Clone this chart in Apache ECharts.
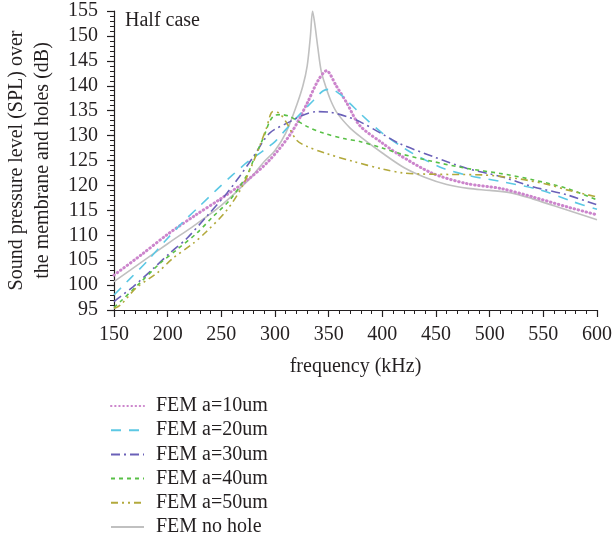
<!DOCTYPE html>
<html><head><meta charset="utf-8">
<script src="https://cdn.jsdelivr.net/npm/echarts@6/dist/echarts.min.js"></script>
<style>html,body{margin:0;padding:0;background:#fff}#c{width:612px;height:540px}</style>
</head><body><div id="c"></div>
<script>
const seriesNames = ['FEM a=10um','FEM a=20um','FEM a=30um','FEM a=40um','FEM a=50um','FEM no hole'];
const xTicks = [150,200,250,300,350,400,450,500,550,600];
const yTicks = [95,100,105,110,115,120,125,130,135,140,145,150,155];

const freqA10 = [150,175,200,225,250,275,295,315,330,340,348,357,367,379,400,416,447,478,510,540,572,600];
const splA10  = [102,106,110.2,113.9,117.4,121.2,125.1,130.5,136.5,141,143,140,136.5,132,128.5,126.1,122.4,120.4,119.4,117.7,115.7,114.1];

const freqA20 = [150,165,180,200,215,230,245,260,275,290,300,310,322,336,345,352,360,370,380,400,423,440,457,480,510,547,578,600];
const splA20  = [98,101.3,104.6,109.4,112.8,115.9,119,122,124.8,127.1,128.8,131.2,134,137.1,139,139.3,138.4,136.4,134.3,130.5,127.1,125.1,123.4,122,120.8,119.1,116.7,115.2];

const freqA30 = [150,156,168,187,202,218,236,255,267,280,295,314,326,339,351,367,379,400,416,447,479,510,541,572,600];
const splA30  = [96.7,97.7,99.7,103.4,106.4,109.4,113.7,118.4,121.8,125.8,130.5,132.8,134.1,134.8,134.7,133.8,132.8,130.3,128.4,125.8,123.4,121.8,119.7,118.1,116.1];

const freqA40 = [150,156,174,193,208,227,242,258,274,280,290,295,300,306,314,330,345,364,379,400,416,447,479,510,541,572,600];
const splA40  = [95.5,96.7,100.4,104.4,107,110.4,113.7,117.1,122.1,125.1,130,132.8,134.1,134.2,133.8,131.8,130.5,129.4,128.8,127.5,126.4,124.8,123.4,122.4,121.1,119.4,117.1];

const freqA50 = [150,156,171,190,205,224,236,255,270,283,292,298,304,311,320,330,348,373,400,419,435,463,494,525,556,572,600];
const splA50  = [95.3,96,99.5,102.4,105.4,108.4,110.7,115,120,126.4,131.5,134.8,134.5,132.5,129.1,127.8,126.4,124.8,123.3,122.5,122.3,122.2,122.1,121.4,120.1,119.1,117.7];

const freqNoHole = [150,175,200,225,250,275,290,300,310,320,326,330,333,335,337,340,343,347,352,358,370,380,400,420,440,460,480,500,520,540,560,580,600];
const splNoHole  = [100.7,104.5,108.3,112,116,121,124.8,127,130.5,136,140,144,150,155,152.5,147.5,143,140,137,134.5,131.5,129.7,126.5,123.6,121.6,120.2,119.4,119,118.5,117.3,115.9,114.5,113.1];

const zip = (xs, ys) => xs.map((x, i) => [x, ys[i]]);
const txt = '#231f20';
const font = 'Liberation Serif';

const styles = [
  {color:'#cc85cc', width:3, type:[0.5,3.6], cap:'round'},
  {color:'#5cc8e4', width:1.6, type:[10,8], cap:'butt'},
  {color:'#6a60b8', width:1.6, type:[9,4,2,4], cap:'butt'},
  {color:'#58c046', width:1.6, type:[4,4], cap:'butt'},
  {color:'#b2a93c', width:1.6, type:[7,4,2,4,2,4], cap:'butt'},
  {color:'#c0c0c0', width:1.6, type:'solid', cap:'butt'}
];
const datasets = [
  zip(freqA10, splA10), zip(freqA20, splA20), zip(freqA30, splA30),
  zip(freqA40, splA40), zip(freqA50, splA50), zip(freqNoHole, splNoHole)
];

const chart = echarts.init(document.getElementById('c'), null, {renderer:'canvas'});
chart.setOption({
  animation: false,
  backgroundColor: '#fff',
  title: {
    text: 'Half case', left: 125, top: 11, padding: 0,
    textStyle: {fontFamily: font, fontSize: 20, fontWeight: 'normal', color: txt}
  },
  legend: {
    orient: 'vertical', left: 110, top: 396, padding: 0,
    itemWidth: 33, itemHeight: 14, itemGap: 4.2,
    data: seriesNames,
    itemStyle: {opacity: 0},
    textStyle: {fontFamily: font, fontSize: 20, color: txt, padding: [0,0,0,7]}
  },
  grid: {left: 114, right: 15, top: 11, bottom: 230, containLabel: false, outerBoundsMode: 'none'},
  xAxis: {
    type: 'value', min: xTicks[0], max: xTicks[xTicks.length-1], interval: 50,
    name: 'frequency (kHz)', nameLocation: 'middle', nameGap: 47,
    nameTextStyle: {fontFamily: font, fontSize: 20, color: txt},
    axisLine: {show: true, onZero: false, lineStyle: {color: txt, width: 1.2}},
    axisTick: {show: true, length: 7, lineStyle: {color: txt, width: 1.2}},
    minorTick: {show: true, splitNumber: 5, length: 4, lineStyle: {color: txt, width: 1}},
    splitLine: {show: false},
    axisLabel: {fontFamily: font, fontSize: 20, color: txt, margin: 15}
  },
  yAxis: {
    type: 'value', min: yTicks[0], max: yTicks[yTicks.length-1], interval: 5,
    name: 'Sound pressure level (SPL) over\nthe membrane and holes (dB)',
    nameLocation: 'middle', nameGap: 58, nameRotate: 90,
    nameTextStyle: {fontFamily: font, fontSize: 20, color: txt, lineHeight: 26},
    axisLine: {show: true, onZero: false, lineStyle: {color: txt, width: 1.2}},
    axisTick: {show: true, length: 7, lineStyle: {color: txt, width: 1.2}},
    minorTick: {show: true, splitNumber: 5, length: 4, lineStyle: {color: txt, width: 1}},
    splitLine: {show: false},
    axisLabel: {fontFamily: font, fontSize: 20, color: txt, margin: 16}
  },
  series: seriesNames.map((n, i) => ({
    name: n, type: 'line', data: datasets[i], symbol: 'none', smooth: 0.3,
    z: i === 5 ? 1 : 2 + i,
    itemStyle: {color: styles[i].color},
    lineStyle: {color: styles[i].color, width: styles[i].width, type: styles[i].type, cap: styles[i].cap}
  }))
});
</script></body></html>
